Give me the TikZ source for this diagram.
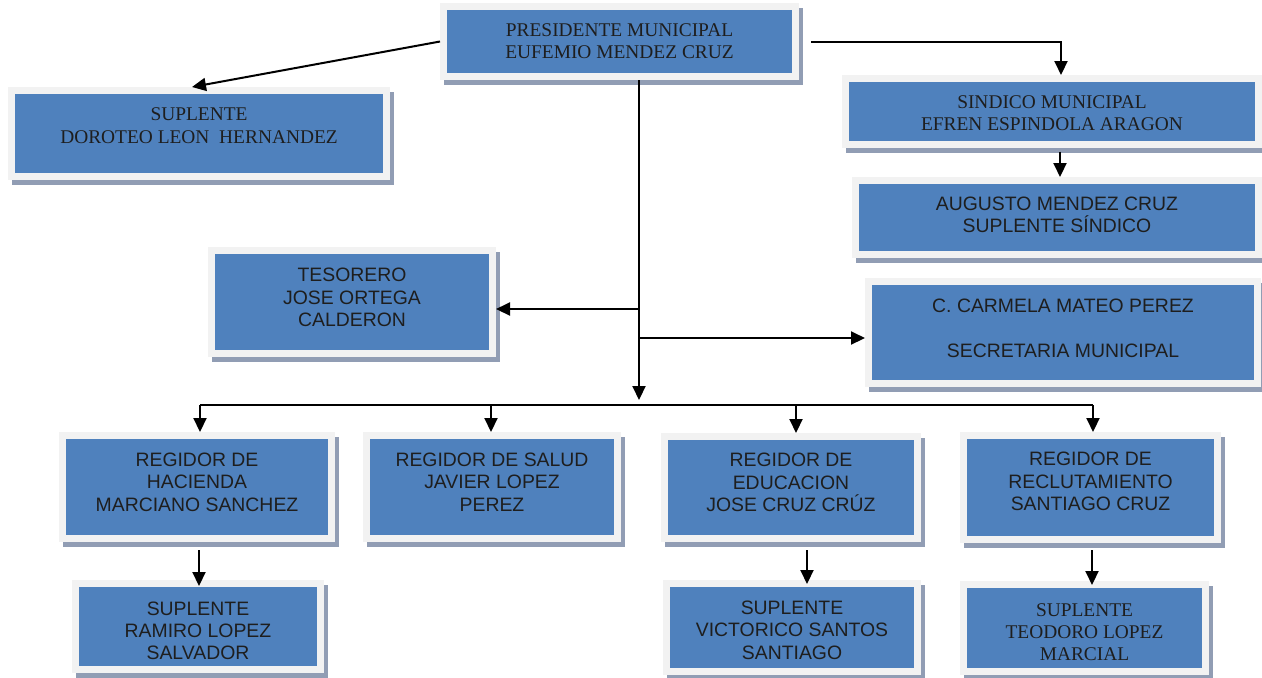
\documentclass[tikz,border=0pt]{standalone}
\usepackage{fontspec}
\setmainfont{Liberation Serif}
\setsansfont{Liberation Sans}
\usepackage{tikz}
\usetikzlibrary{arrows.meta, shadows, calc}
\usetikzlibrary{positioning}

\definecolor{boxblue}{RGB}{79,129,189}
\definecolor{framegrey}{RGB}{242,242,242}
\definecolor{shadowblue}{RGB}{145,157,180}
\definecolor{inkgrey}{RGB}{30,30,30}
\newcommand\textlift[1]{\rule[-#1]{0pt}{#1}}
\newcommand\textdrop[1]{\rule{0pt}{#1}}

\begin{document}
\begin{tikzpicture}[x=0.5pt, y=-0.5pt, line width=1pt,
    box/.style={draw=framegrey, line width=3.5pt, fill=boxblue, inner sep=0pt, align=center, text=inkgrey,
        drop shadow={shadow xshift=1.75pt, shadow yshift=-2.25pt, fill=shadowblue, draw=shadowblue, line width=3.5pt, opacity=1}},
    times/.style={box, font=\rmfamily\fontsize{9.7}{11.15}\selectfont},
    arial/.style={box, font=\sffamily\fontsize{9.7}{11.15}\selectfont},
    link/.style={line width=1pt, -{Triangle[length=7pt, width=6.5pt]}}]
    \useasboundingbox (0,0) rectangle (1262,677);

    \node[times, minimum width=176pt, minimum height=35pt] (pres) at (619.5,41.5) {PRESIDENTE MUNICIPAL\\EUFEMIO MENDEZ CRUZ};
    \node[times, minimum width=187.5pt, minimum height=43pt] (dor) at (199,133.5) {SUPLENTE\\DOROTEO LEON~~HERNANDEZ\textlift{8pt}};
    \node[times, minimum width=206.5pt, minimum height=33pt] (sind) at (1052,111.5) {\textdrop{8.4pt}SINDICO MUNICIPAL\\EFREN ESPINDOLA ARAGON};
    \node[arial, minimum width=201.5pt, minimum height=37pt] (aug) at (1057,217.5) {AUGUSTO MENDEZ CRUZ\\SUPLENTE SÍNDICO\textlift{3pt}};
    \node[arial, minimum width=140.5pt, minimum height=51.5pt] (tes) at (352,302) {TESORERO\\JOSE ORTEGA\\CALDERON\textlift{4.5pt}};
    \node[arial, minimum width=194.5pt, minimum height=51pt] (sec) at (1063,332.5) {C. CARMELA MATEO PEREZ\\[11.15pt]SECRETARIA MUNICIPAL\textlift{4pt}};

    \node[arial, minimum width=134.5pt, minimum height=51.5pt] (hac) at (197,487) {REGIDOR DE\\HACIENDA\\MARCIANO SANCHEZ\textlift{5pt}};
    \node[arial, minimum width=125.5pt, minimum height=51.5pt] (sal) at (492,487) {REGIDOR DE SALUD\\JAVIER LOPEZ\\PEREZ\textlift{5pt}};
    \node[arial, minimum width=126.5pt, minimum height=51pt] (edu) at (791,487.5) {REGIDOR DE\\EDUCACION\\JOSE CRUZ CRÚZ\textlift{5pt}};
    \node[arial, minimum width=127pt, minimum height=52pt] (rec) at (1090.5,487.5) {REGIDOR DE\\RECLUTAMIENTO\\SANTIAGO CRUZ\textlift{6pt}};

    \node[arial, minimum width=122.5pt, minimum height=43pt] (ram) at (198,626.5) {\textdrop{11pt}SUPLENTE\\RAMIRO LOPEZ\\SALVADOR};
    \node[arial, minimum width=125.5pt, minimum height=44pt] (vic) at (792,627.5) {\textdrop{9.5pt}SUPLENTE\\VICTORICO SANTOS\\SANTIAGO};
    \node[times, minimum width=121pt, minimum height=43.5pt] (teo) at (1084.5,628) {\textdrop{10.4pt}SUPLENTE\\TEODORO LOPEZ\\MARCIAL};

    \coordinate (bus) at (639,405);
    \draw[link] (pres.west) -- ([xshift=-3.5pt]dor.north);
    \draw[link] ([xshift=6pt]pres.east) -| ([xshift=4.5pt]sind.north);
    \draw[link] ([xshift=4pt, yshift=-1.75pt]sind.south) -- ([xshift=4pt]sind.south |- aug.north);
    \draw[link] ([xshift=9.75pt]pres.south) -- ([yshift=2.5pt]bus);
    \draw[link] ([yshift=-3.5pt]tes.east -| bus) -- ([yshift=-3.5pt]tes.east);
    \draw[link] ([yshift=-2.75pt]sec.west -| bus) -- ([yshift=-2.75pt]sec.west);

    \draw ([xshift=1.5pt]hac.north |- bus) -- ([xshift=1.25pt]rec.north |- bus);
    \foreach \reg/\dx in {hac/1.5pt, sal/-0.5pt, edu/2.5pt, rec/1.25pt}
        \draw[link] ([xshift=\dx]\reg.north |- bus) -- ([xshift=\dx]\reg.north);

    \draw[link, shorten >=-3pt] ([xshift=1pt, yshift=-4pt]hac.south) -- ([xshift=1pt]hac.south |- ram.north);
    \draw[link, shorten >=-2pt] ([xshift=8pt, yshift=-4pt]edu.south) -- ([xshift=8pt]edu.south |- vic.north);
    \draw[link, shorten >=-2pt] ([xshift=0.75pt, yshift=-3.5pt]rec.south) -- ([xshift=0.75pt]rec.south |- teo.north);
\end{tikzpicture}
\end{document}
